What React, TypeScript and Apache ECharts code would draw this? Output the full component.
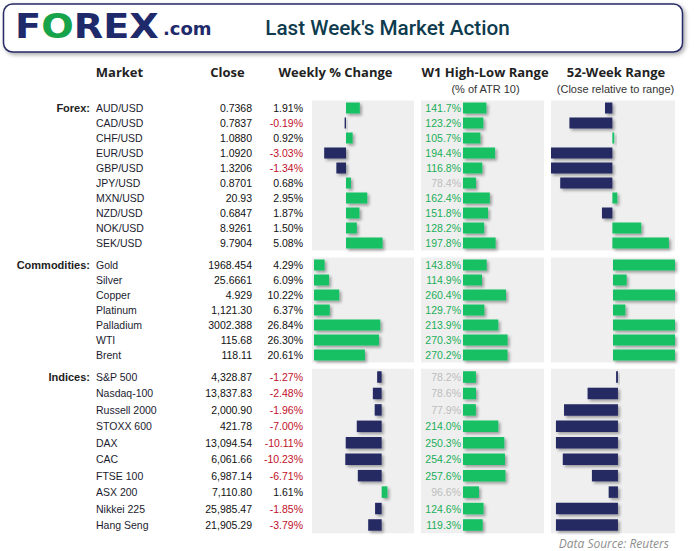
import React, { useEffect, useRef } from "react";
import * as echarts from "echarts";

// ---------- DATA ----------
const forexNames = ["AUD/USD", "CAD/USD", "CHF/USD", "EUR/USD", "GBP/USD", "JPY/USD", "MXN/USD", "NZD/USD", "NOK/USD", "SEK/USD"];
const forexClose = ["0.7368", "0.7837", "1.0880", "1.0920", "1.3206", "0.8701", "20.93", "0.6847", "8.9261", "9.7904"];
const forexChange = [1.91, -0.19, 0.92, -3.03, -1.34, 0.68, 2.95, 1.87, 1.5, 5.08];
const forexAtr = [141.7, 123.2, 105.7, 194.4, 116.8, 78.4, 162.4, 151.8, 128.2, 197.8];
const forexRange52 = [-12, -70, 3, -100, -100, -85, 8, -17, 47, 92];

const commNames = ["Gold", "Silver", "Copper", "Platinum", "Palladium", "WTI", "Brent"];
const commClose = ["1968.454", "25.6661", "4.929", "1,121.30", "3002.388", "115.68", "118.11"];
const commChange = [4.29, 6.09, 10.22, 6.37, 26.84, 26.3, 20.61];
const commAtr = [143.8, 114.9, 260.4, 129.7, 213.9, 270.3, 270.2];
const commRange52 = [100, 22, 100, 20, 100, 100, 100];

const idxNames = ["S&P 500", "Nasdaq-100", "Russell 2000", "STOXX 600", "DAX", "CAC", "FTSE 100", "ASX 200", "Nikkei 225", "Hang Seng"];
const idxClose = ["4,328.87", "13,837.83", "2,000.90", "421.78", "13,094.54", "6,061.66", "6,987.14", "7,110.80", "25,985.47", "21,905.29"];
const idxChange = [-1.27, -2.48, -1.96, -7.0, -10.11, -10.23, -6.71, 1.61, -1.85, -3.79];
const idxAtr = [78.2, 78.6, 77.9, 214.0, 250.3, 254.2, 257.6, 96.6, 124.6, 119.3];
const idxRange52 = [-3, -49, -87, -100, -100, -89, -42, -15, -100, -100];

const sectionLabels = ["Forex:", "Commodities:", "Indices:"];
const columnHeaders = ["Market", "Close", "Weekly % Change", "W1 High-Low Range", "52-Week Range"];
const subHeaders = ["(% of ATR 10)", "(Close relative to range)"];
const titleText = "Last Week's Market Action";
const sourceText = "Data Source: Reuters";

// ---------- STYLE ----------
const GREEN = "#12c064";
const GREEN_TXT = "#1aae59";
const NAVY = "#262a64";
const RED = "#c0102a";
const GREY_TXT = "#bdbdbd";
const PANEL = "#efefef";
const FONT = "'Liberation Sans', Arial, sans-serif";
const HFONT = "'Open Sans', 'Noto Sans', sans-serif";

const sections = [
  { names: forexNames, close: forexClose, change: forexChange, atr: forexAtr, r52: forexRange52,
    top: 100.5, bottom: 250.5, wMin: -4.72, wMax: 9.44, rMin: -100, rMax: 102, barW: 11 },
  { names: commNames, close: commClose, change: commChange, atr: commAtr, r52: commRange52,
    top: 257.5, bottom: 362.5, wMin: -0.81, wMax: 40.5, rMin: -100, rMax: 100, barW: 11 },
  { names: idxNames, close: idxClose, change: idxChange, atr: idxAtr, r52: idxRange52,
    top: 368.8, bottom: 533.2, wMin: -19.6, wMax: 9.1, rMin: -108, rMax: 92, barW: 11.5 },
];

const shadow = { shadowColor: "rgba(0,0,0,0.35)", shadowBlur: 3, shadowOffsetX: 2, shadowOffsetY: 2 };

function buildOption() {
  const grid: any[] = [];
  const xAxis: any[] = [];
  const yAxis: any[] = [];
  const series: any[] = [];

  const hiddenCat = (gi: number, data: string[]) => ({
    type: "category", gridIndex: gi, data, inverse: true, position: "left", offset: 0,
    axisLine: { show: false }, axisTick: { show: false }, splitLine: { show: false },
  });

  sections.forEach((s, si) => {
    const height = s.bottom - s.top;
    const base = { top: s.top, height, show: true, backgroundColor: PANEL, borderWidth: 0 };
    const gW = grid.length;
    grid.push({ ...base, left: 312, width: 102 });
    const gA = grid.length;
    grid.push({ ...base, left: 421, width: 123 });
    const gR = grid.length;
    grid.push({ ...base, left: 551, width: 124 });

    const xW = xAxis.length;
    xAxis.push({ type: "value", gridIndex: gW, min: s.wMin, max: s.wMax, show: false });
    const xA = xAxis.length;
    xAxis.push({ type: "value", gridIndex: gA, min: -254.5, max: 491, show: false });
    const xR = xAxis.length;
    xAxis.push({ type: "value", gridIndex: gR, min: s.rMin, max: s.rMax, show: false });

    const yW = yAxis.length;
    yAxis.push({
      ...hiddenCat(gW, s.names),
      axisLabel: {
        interval: 0, margin: 9, fontSize: 10.5, fontFamily: FONT,
        formatter: (_v: string, i: number) => s.change[i].toFixed(2) + "%",
        color: (_v: any, i: number) => (s.change[i] < 0 ? RED : "#111"),
      },
    });
    yAxis.push({
      ...hiddenCat(gW, s.names),
      axisLabel: {
        interval: 0, margin: 60, fontSize: 10.5, fontFamily: FONT, color: "#111",
        formatter: (_v: string, i: number) => s.close[i],
      },
    });
    yAxis.push({
      ...hiddenCat(gW, s.names),
      axisLabel: { interval: 0, margin: 216, align: "left", fontSize: 10.5, fontFamily: FONT, color: "#1c1c30" },
    });
    yAxis.push({
      ...hiddenCat(gW, s.names),
      axisLabel: {
        interval: 0, margin: 222, fontSize: 11, fontWeight: "bold", fontFamily: FONT, color: "#222",
        formatter: (_v: string, i: number) => (i === 0 ? sectionLabels[si] : ""),
      },
    });
    const yA = yAxis.length;
    yAxis.push({ ...hiddenCat(gA, s.names), axisLabel: { show: false } });
    const yR = yAxis.length;
    yAxis.push({ ...hiddenCat(gR, s.names), axisLabel: { show: false } });

    series.push({
      type: "bar", xAxisIndex: xW, yAxisIndex: yW, barWidth: s.barW, silent: true,
      data: s.change.map((v) => ({ value: v, itemStyle: { color: v < 0 ? NAVY : GREEN, ...shadow } })),
    });
    series.push({
      type: "bar", xAxisIndex: xA, yAxisIndex: yA, barWidth: s.barW, silent: true,
      data: s.atr.map((v) => ({
        value: v,
        itemStyle: { color: GREEN, ...shadow },
        label: { color: v < 100 ? GREY_TXT : GREEN_TXT },
      })),
      label: {
        show: true, position: "left", distance: 2, fontSize: 10.5, fontFamily: FONT,
        formatter: (p: any) => Number(p.value).toFixed(1) + "%",
      },
    });
    series.push({
      type: "bar", xAxisIndex: xR, yAxisIndex: yR, barWidth: s.barW, silent: true,
      data: s.r52.map((v) => ({ value: v, itemStyle: { color: v < 0 ? NAVY : GREEN, ...shadow } })),
    });
  });

  const headerCenters = [119.5, 227.5, 335.5, 485, 616];
  const graphic: any[] = [
    {
      type: "rect", shape: { x: 3.5, y: 4, width: 679, height: 48, r: 9 },
      style: { fill: "#fff", stroke: "#262a66", lineWidth: 1.5, shadowBlur: 4, shadowOffsetX: 2, shadowOffsetY: 2, shadowColor: "rgba(0,0,0,0.35)" },
      z: 0,
    },
    {
      type: "text", x: 15, y: 26.5, scaleX: 1.16, z: 2,
      style: {
        text: "{n|F}{g|O}{n|REX}", align: "left", verticalAlign: "middle",
        rich: {
          n: { fontSize: 33, fontWeight: "bold", fontFamily: "'DejaVu Sans', sans-serif", fill: "#1f2a6b" },
          g: { fontSize: 33, fontWeight: "bold", fontFamily: "'DejaVu Sans', sans-serif", fill: "#17a34a" },
        },
      },
    },
    {
      type: "text", x: 163, y: 28, z: 2,
      style: { text: ".com", fontSize: 18, fontWeight: "bold", fontFamily: "'DejaVu Sans', sans-serif", fill: "#1f2a6b", align: "left", verticalAlign: "middle" },
    },
    {
      type: "text", x: 387.5, y: 28, z: 2,
      style: { text: titleText, fontSize: 20.7, fontFamily: "Roboto, sans-serif", fontWeight: 500, fill: "#0e3b4e", align: "center", verticalAlign: "middle" },
    },
    ...columnHeaders.map((t, i) => ({
      type: "text", x: headerCenters[i], y: 72, z: 2,
      style: { text: t, fontSize: 13, fontWeight: "bold", fontFamily: HFONT, fill: "#222", align: "center", verticalAlign: "middle" },
    })),
    ...subHeaders.map((t, i) => ({
      type: "text", x: [485.5, 615.5][i], y: 89, z: 2,
      style: { text: t, fontSize: 11, fontFamily: FONT, fill: "#333", align: "center", verticalAlign: "middle" },
    })),
    {
      type: "text", x: 669, y: 543, z: 2,
      style: { text: sourceText, fontSize: 12, fontStyle: "italic", fontFamily: HFONT, fill: "#8e8e8e", align: "right", verticalAlign: "middle" },
    },
  ];

  return { animation: false, backgroundColor: "#fff", grid, xAxis, yAxis, series, graphic };
}

export default function App() {
  const ref = useRef<HTMLDivElement>(null);
  useEffect(() => {
    if (!ref.current) return;
    const chart = echarts.init(ref.current, undefined, { renderer: "svg" });
    chart.setOption(buildOption() as any);
    return () => chart.dispose();
  }, []);
  return <div ref={ref} style={{ position: "absolute", left: 0, top: 0, width: 694, height: 551 }} />;
}
